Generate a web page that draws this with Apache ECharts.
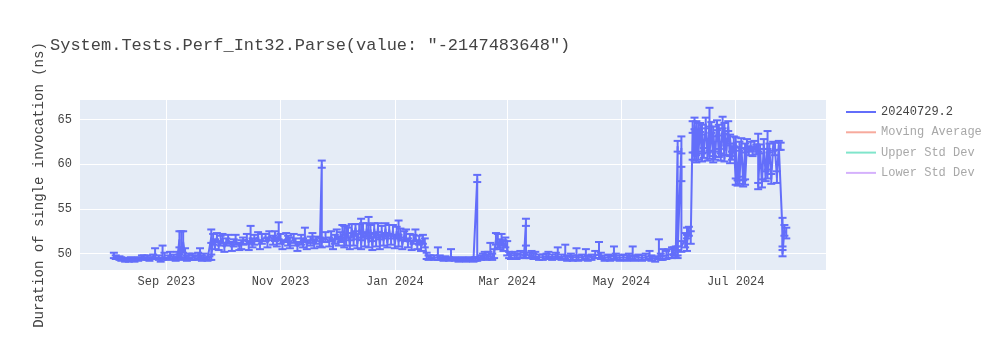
<!DOCTYPE html>
<html>
<head>
<meta charset="utf-8">
<script src="https://cdn.jsdelivr.net/npm/echarts@6/dist/echarts.min.js"></script>
<style>html,body{margin:0;padding:0;background:#fff}#c{width:1000px;height:350px}</style>
</head>
<body>
<div id="c"></div>
<script>
const titleText = 'System.Tests.Perf_Int32.Parse(value: "-2147483648")';
const yAxisTitle = 'Duration of single invocation (ns)';
const legendNames = ['20240729.2', 'Moving Average', 'Upper Std Dev', 'Lower Std Dev'];

const dates = [
'2023-08-04','2023-08-05','2023-08-07','2023-08-08','2023-08-10','2023-08-12','2023-08-13','2023-08-15','2023-08-17','2023-08-19',
'2023-08-20','2023-08-22','2023-08-23','2023-08-25','2023-08-26','2023-08-28','2023-08-29','2023-08-30','2023-08-31','2023-09-02',
'2023-09-03','2023-09-05','2023-09-06','2023-09-07','2023-09-08','2023-09-08','2023-09-09','2023-09-09','2023-09-10','2023-09-11',
'2023-09-12','2023-09-13','2023-09-15','2023-09-16','2023-09-18','2023-09-19','2023-09-20','2023-09-21','2023-09-23','2023-09-24',
'2023-09-25','2023-09-25','2023-09-26','2023-09-27','2023-09-28','2023-09-29','2023-09-30','2023-10-01','2023-10-02','2023-10-03',
'2023-10-04','2023-10-06','2023-10-07','2023-10-08','2023-10-10','2023-10-11','2023-10-12','2023-10-14','2023-10-15','2023-10-16',
'2023-10-17','2023-10-18','2023-10-20','2023-10-21','2023-10-22','2023-10-24','2023-10-25','2023-10-26','2023-10-28','2023-10-29',
'2023-10-30','2023-10-31','2023-11-01','2023-11-02','2023-11-04','2023-11-05','2023-11-06','2023-11-08','2023-11-09','2023-11-10',
'2023-11-12','2023-11-13','2023-11-14','2023-11-15','2023-11-17','2023-11-18','2023-11-19','2023-11-20','2023-11-22','2023-11-23',
'2023-11-23','2023-11-25','2023-11-27','2023-11-28','2023-11-29','2023-11-30','2023-12-01','2023-12-02','2023-12-03','2023-12-04',
'2023-12-05','2023-12-05','2023-12-06','2023-12-07','2023-12-08','2023-12-09','2023-12-10','2023-12-11','2023-12-12','2023-12-13',
'2023-12-14','2023-12-14','2023-12-15','2023-12-16','2023-12-17','2023-12-18','2023-12-18','2023-12-19','2023-12-20','2023-12-21',
'2023-12-22','2023-12-23','2023-12-24','2023-12-25','2023-12-26','2023-12-27','2023-12-28','2023-12-29','2023-12-30','2023-12-31',
'2024-01-01','2024-01-02','2024-01-03','2024-01-03','2024-01-04','2024-01-05','2024-01-06','2024-01-07','2024-01-08','2024-01-09',
'2024-01-10','2024-01-11','2024-01-12','2024-01-13','2024-01-14','2024-01-15','2024-01-16','2024-01-17',
'2024-01-18','2024-01-19','2024-01-20','2024-01-22','2024-01-24','2024-01-25','2024-01-27','2024-01-28','2024-01-30','2024-01-31',
'2024-02-02','2024-02-04','2024-02-06','2024-02-08','2024-02-10','2024-02-12','2024-02-13','2024-02-14','2024-02-14','2024-02-16',
'2024-02-17','2024-02-18','2024-02-19','2024-02-20','2024-02-21','2024-02-22','2024-02-23','2024-02-24','2024-02-25','2024-02-26',
'2024-02-27','2024-02-28','2024-02-29','2024-03-01','2024-03-02','2024-03-03','2024-03-05','2024-03-06','2024-03-08','2024-03-10',
'2024-03-11','2024-03-11','2024-03-13','2024-03-14','2024-03-15','2024-03-16','2024-03-18','2024-03-20','2024-03-22','2024-03-23',
'2024-03-25','2024-03-27','2024-03-28','2024-03-30','2024-04-01','2024-04-02','2024-04-04','2024-04-05','2024-04-07','2024-04-08',
'2024-04-10','2024-04-12','2024-04-13','2024-04-15','2024-04-17','2024-04-19','2024-04-20','2024-04-22','2024-04-24','2024-04-25',
'2024-04-27','2024-04-28','2024-04-30','2024-05-02','2024-05-04','2024-05-05','2024-05-07','2024-05-08','2024-05-10','2024-05-12',
'2024-05-14','2024-05-16','2024-05-17','2024-05-19','2024-05-21','2024-05-22','2024-05-23','2024-05-25','2024-05-26','2024-05-28',
'2024-05-29','2024-05-30','2024-05-31',
'2024-05-31','2024-05-31','2024-06-02','2024-06-02','2024-06-02','2024-06-04','2024-06-05','2024-06-05','2024-06-06','2024-06-07',
'2024-06-08','2024-06-08','2024-06-09','2024-06-09','2024-06-10','2024-06-10','2024-06-11','2024-06-11','2024-06-12','2024-06-13',
'2024-06-13','2024-06-14','2024-06-15','2024-06-16','2024-06-17','2024-06-17','2024-06-18','2024-06-19','2024-06-19','2024-06-20',
'2024-06-21','2024-06-22','2024-06-22','2024-06-23','2024-06-24','2024-06-25','2024-06-25','2024-06-26','2024-06-27','2024-06-28',
'2024-06-28','2024-06-29','2024-06-30',
'2024-07-01','2024-07-01','2024-07-02','2024-07-03','2024-07-03','2024-07-04','2024-07-05','2024-07-06','2024-07-06','2024-07-07',
'2024-07-08','2024-07-09','2024-07-10','2024-07-11','2024-07-12','2024-07-13','2024-07-13','2024-07-14','2024-07-15','2024-07-16',
'2024-07-17','2024-07-18','2024-07-18','2024-07-19','2024-07-20','2024-07-21','2024-07-22','2024-07-23','2024-07-24','2024-07-25',
'2024-07-26','2024-07-26','2024-07-27','2024-07-28'
];

const values = [
49.8,49.6,49.5,49.4,49.3,49.3,49.4,49.3,49.4,49.5,
49.6,49.5,49.4,49.6,49.7,49.5,49.3,49.6,49.7,49.5,
49.8,49.6,49.4,49.7,51.6,49.6,50.8,49.8,51.3,49.9,
49.5,49.7,49.6,49.5,49.8,49.7,49.5,49.6,49.4,49.5,
51.8,49.6,51.5,51.0,51.8,50.9,51.4,51.7,50.7,51.3,
51.6,50.8,51.2,51.5,50.8,51.0,51.4,51.6,50.9,51.8,
51.2,51.5,51.9,51.0,51.6,51.8,51.2,52.0,51.5,51.9,
51.3,52.2,51.6,51.0,51.8,51.4,51.1,51.7,51.3,50.8,
51.5,51.2,51.9,51.0,51.4,51.7,51.1,51.5,51.3,60.0,
51.2,51.8,51.3,51.9,51.0,51.6,52.1,51.4,51.8,52.0,
51.2,52.6,51.5,52.3,51.0,52.8,51.4,52.9,51.1,52.7,
52.4,51.0,52.9,51.3,52.8,52.9,51.2,52.7,50.9,52.8,
51.3,52.9,51.0,52.6,51.4,52.8,51.2,52.7,51.5,52.6,
51.1,52.5,52.7,51.3,52.3,51.0,52.0,51.9,51.2,51.8,
50.9,51.6,51.9,51.0,51.5,50.8,51.6,51.2,
49.7,49.5,49.6,49.5,49.6,49.5,49.4,49.5,49.4,49.6,
49.4,49.3,49.4,49.3,49.4,49.3,49.4,58.4,49.4,49.5,
49.7,49.8,49.6,49.7,49.8,49.6,49.9,51.6,51.3,51.0,
51.5,50.8,51.2,50.5,49.8,49.7,49.8,49.7,49.9,49.8,
53.5,49.9,49.8,49.9,49.7,49.8,49.6,49.6,49.7,49.8,
49.6,49.7,49.8,49.6,49.7,49.5,49.6,49.5,49.6,49.5,
49.6,49.7,49.5,49.6,49.8,49.9,49.7,49.5,49.6,49.5,
49.7,49.6,49.5,49.6,49.5,49.6,49.7,49.5,49.6,49.5,
49.6,49.7,49.5,49.4,49.8,49.6,49.7,49.8,49.9,50.0,
50.2,50.1,49.9,
62.0,50.3,61.8,58.9,50.8,51.5,52.3,51.2,52.5,51.8,
64.0,60.9,64.4,60.8,64.2,60.6,63.9,60.9,64.1,60.7,
63.8,61.2,64.5,60.8,64.8,61.0,64.0,60.5,63.6,60.9,
64.3,61.2,63.7,60.8,64.5,60.6,63.9,61.5,64.2,60.4,
62.8,60.9,62.5,
58.0,62.4,57.9,62.0,58.2,62.3,57.8,61.8,58.0,62.2,
61.5,61.9,61.4,62.1,61.6,62.0,57.5,61.7,57.8,62.2,
58.6,62.3,58.9,61.8,58.3,62.0,61.6,58.5,62.1,62.0,
52.4,50.0,52.6,52.3
];

const errorsPlus = [
0.3,0.2,0.2,0.2,0.2,0.2,0.2,0.2,0.2,0.3,
0.2,0.3,0.2,0.3,0.9,0.3,0.2,1.3,0.4,0.3,
0.4,0.3,0.2,0.5,0.9,0.3,1.7,0.4,1.2,0.7,
0.3,0.3,0.4,0.3,0.3,0.9,0.3,0.4,0.2,0.2,
0.9,0.3,0.7,0.6,0.5,0.5,0.6,0.5,0.5,0.4,
0.5,0.5,0.4,0.6,0.4,0.5,0.4,0.6,0.5,1.3,
0.5,0.6,0.5,0.5,0.6,0.4,0.6,0.5,0.5,0.6,
0.5,1.3,0.6,0.5,0.5,0.6,0.7,0.5,0.4,0.5,
0.6,0.5,1.0,0.5,0.5,0.6,0.5,0.4,0.5,0.4,
0.5,0.6,0.5,0.6,0.6,0.5,0.6,0.5,0.6,1.2,
0.6,0.5,1.6,0.6,0.5,0.5,0.6,0.4,0.5,0.6,
1.5,0.5,0.5,0.6,0.6,1.2,0.5,0.5,0.5,0.6,
0.5,0.5,0.6,0.5,0.5,0.6,0.5,0.5,0.5,0.6,
0.6,0.5,1.0,0.5,0.5,0.5,0.5,0.8,0.5,0.4,
0.5,0.5,0.8,0.5,0.5,0.6,0.5,0.5,
0.4,0.3,0.2,0.3,1.1,0.3,0.2,0.2,0.2,0.9,
0.2,0.2,0.2,0.2,0.2,0.2,0.2,0.4,0.2,0.3,
0.3,0.4,0.3,0.5,1.4,0.4,0.6,0.7,0.9,0.6,
0.7,0.7,0.6,0.9,0.4,0.3,0.4,0.3,0.4,0.3,
0.4,1.0,0.3,0.4,0.3,0.4,0.3,0.3,0.3,0.4,
0.3,0.4,0.9,0.3,1.3,0.3,0.4,0.3,1.0,0.3,
0.3,0.8,0.3,0.3,0.5,1.4,0.4,0.3,0.3,0.3,
1.1,0.4,0.3,0.3,0.3,0.4,1.1,0.3,0.3,0.3,
0.4,0.6,0.3,0.3,1.8,0.4,0.8,0.5,0.6,0.7,
0.5,0.7,0.5,
0.6,0.5,1.3,0.8,0.6,0.8,0.6,0.9,0.5,0.7,
0.8,0.4,0.8,0.5,0.6,0.4,0.7,0.5,0.5,0.5,
0.6,0.6,0.7,0.5,1.5,0.5,0.7,0.4,0.6,0.5,
0.6,0.5,0.7,0.4,0.8,0.4,0.7,0.6,0.6,0.5,
0.5,0.5,0.6,
0.4,0.6,0.3,0.5,0.4,0.6,0.4,0.5,0.3,0.6,
0.5,0.6,0.5,0.5,0.6,1.4,0.4,0.5,0.5,0.6,
0.6,1.4,0.5,0.5,0.6,0.5,0.8,0.7,0.5,0.4,
1.6,0.4,0.6,0.6
];

const errorsMinus = [
0.3,0.2,0.2,0.2,0.2,0.2,0.2,0.2,0.2,0.2,
0.2,0.2,0.2,0.2,0.3,0.2,0.2,0.3,0.3,0.2,
0.3,0.2,0.2,0.3,0.9,0.3,1.2,0.4,1.2,0.4,
0.3,0.3,0.3,0.2,0.3,0.3,0.3,0.3,0.2,0.2,
0.6,0.3,0.5,0.5,0.5,0.5,0.5,0.5,0.5,0.4,
0.5,0.5,0.4,0.5,0.4,0.5,0.4,0.5,0.5,0.6,
0.5,0.5,0.5,0.5,0.5,0.4,0.5,0.5,0.5,0.5,
0.5,0.6,0.5,0.5,0.5,0.5,0.5,0.5,0.4,0.5,
0.5,0.5,0.6,0.5,0.5,0.5,0.5,0.4,0.5,0.4,
0.5,0.5,0.5,0.5,0.5,0.5,0.5,0.5,0.5,0.6,
0.5,0.5,0.6,0.5,0.5,0.5,0.5,0.4,0.5,0.5,
0.6,0.5,0.5,0.5,0.5,0.6,0.5,0.5,0.5,0.5,
0.5,0.5,0.5,0.5,0.5,0.5,0.5,0.5,0.5,0.5,
0.5,0.5,0.6,0.5,0.5,0.5,0.5,0.5,0.5,0.4,
0.5,0.5,0.5,0.5,0.5,0.5,0.5,0.5,
0.3,0.2,0.2,0.2,0.3,0.2,0.2,0.2,0.2,0.3,
0.2,0.2,0.2,0.2,0.2,0.2,0.2,0.4,0.2,0.2,
0.3,0.3,0.3,0.3,0.4,0.3,0.4,0.6,0.6,0.5,
0.6,0.5,0.5,0.7,0.3,0.3,0.3,0.3,0.3,0.3,
0.4,0.4,0.3,0.3,0.3,0.3,0.3,0.3,0.3,0.3,
0.3,0.3,0.3,0.3,0.3,0.3,0.3,0.3,0.3,0.3,
0.3,0.3,0.3,0.3,0.3,0.4,0.3,0.3,0.3,0.3,
0.3,0.3,0.3,0.3,0.3,0.3,0.3,0.3,0.3,0.3,
0.3,0.3,0.3,0.3,0.4,0.3,0.4,0.4,0.4,0.5,
0.4,0.5,0.4,
0.6,0.5,0.6,0.8,0.6,0.8,0.6,0.9,0.5,0.7,
0.5,0.4,0.5,0.4,0.5,0.4,0.5,0.4,0.5,0.4,
0.5,0.5,0.5,0.4,0.6,0.4,0.5,0.3,0.5,0.4,
0.5,0.4,0.5,0.4,0.5,0.3,0.5,0.5,0.5,0.3,
0.5,0.4,0.5,
0.3,0.5,0.3,0.5,0.4,0.5,0.3,0.5,0.3,0.5,
0.5,0.5,0.5,0.5,0.5,0.6,0.3,0.5,0.4,0.5,
0.5,0.6,0.5,0.5,0.5,0.5,0.6,0.6,0.5,0.4,
1.6,0.3,0.6,0.6
];

const mainColor = '#636efa';
const font = '"Liberation Mono", "DejaVu Sans Mono", monospace';

const lineData = dates.map((d, i) => [d, values[i]]);
const errData = dates.map((d, i) => [d, values[i] - errorsMinus[i], values[i] + errorsPlus[i]]);

function renderErr(params, api) {
  const x = api.value(0);
  const pLo = api.coord([x, api.value(1)]);
  const pHi = api.coord([x, api.value(2)]);
  const cs = params.coordSys;
  const top = Math.max(pHi[1], cs.y);
  const bot = Math.min(pLo[1], cs.y + cs.height);
  const cx = pLo[0];
  const hw = 4;
  const st = { stroke: mainColor, lineWidth: 2 };
  const children = [{ type: 'line', shape: { x1: cx, y1: top, x2: cx, y2: bot }, style: st }];
  if (pHi[1] >= cs.y) children.push({ type: 'line', shape: { x1: cx - hw, y1: pHi[1], x2: cx + hw, y2: pHi[1] }, style: st });
  if (pLo[1] <= cs.y + cs.height) children.push({ type: 'line', shape: { x1: cx - hw, y1: pLo[1], x2: cx + hw, y2: pLo[1] }, style: st });
  return { type: 'group', children };
}

const chart = echarts.init(document.getElementById('c'), null, { renderer: 'canvas' });
chart.setOption({
  animation: false,
  backgroundColor: '#ffffff',
  title: {
    text: titleText, left: 50, top: 37, padding: 0,
    textStyle: { fontFamily: font, fontSize: 17, fontWeight: 'normal', color: '#444' }
  },
  legend: {
    orient: 'vertical', left: 841, top: 101,
    itemWidth: 30, itemHeight: 2, itemGap: 8.3, icon: 'rect',
    textStyle: { fontFamily: font, fontSize: 12, color: '#444' },
    data: [
      { name: legendNames[0], itemStyle: { color: mainColor } },
      { name: legendNames[1], itemStyle: { color: '#f7aa9d' }, textStyle: { color: '#a8a8a8' } },
      { name: legendNames[2], itemStyle: { color: '#80e5cb' }, textStyle: { color: '#a8a8a8' } },
      { name: legendNames[3], itemStyle: { color: '#d5b1fc' }, textStyle: { color: '#a8a8a8' } }
    ],
    selectedMode: false
  },
  grid: {
    left: 80, right: 174, top: 100, bottom: 80,
    show: true, backgroundColor: '#E5ECF6', borderWidth: 0
  },
  xAxis: {
    type: 'time',
    min: +new Date(2023, 6, 16, 22), max: +new Date(2024, 7, 18, 5),
    splitNumber: 5,
    axisLine: { show: false }, axisTick: { show: false },
    axisLabel: {
      formatter: '{MMM} {yyyy}', fontFamily: font, fontSize: 12, color: '#444',
      showMinLabel: false, showMaxLabel: false, margin: 6
    },
    splitLine: { show: true, showMinLine: false, showMaxLine: false, lineStyle: { color: '#fff', width: 1 } }
  },
  yAxis: {
    type: 'value', min: 48.17, max: 67.17, splitNumber: 4,
    name: yAxisTitle, nameLocation: 'middle', nameGap: 26, nameRotate: 90,
    nameTextStyle: { fontFamily: font, fontSize: 14, color: '#444' },
    axisLine: { show: false }, axisTick: { show: false },
    axisLabel: { fontFamily: font, fontSize: 12, color: '#444', showMinLabel: false, showMaxLabel: false, margin: 8 },
    splitLine: { show: true, showMinLine: false, showMaxLine: false, lineStyle: { color: '#fff', width: 1 } }
  },
  series: [
    {
      name: legendNames[0], type: 'line', data: lineData, showSymbol: false, symbol: 'none',
      lineStyle: { color: mainColor, width: 2 }, itemStyle: { color: mainColor }, z: 3
    },
    {
      name: legendNames[0] + ' err', type: 'custom', data: errData, renderItem: renderErr,
      encode: { x: 0, y: [1, 2] }, clip: true, z: 2
    },
    { name: legendNames[1], type: 'line', data: [], itemStyle: { color: '#f7aa9d' } },
    { name: legendNames[2], type: 'line', data: [], itemStyle: { color: '#80e5cb' } },
    { name: legendNames[3], type: 'line', data: [], itemStyle: { color: '#d5b1fc' } }
  ]
});
</script>
</body>
</html>
